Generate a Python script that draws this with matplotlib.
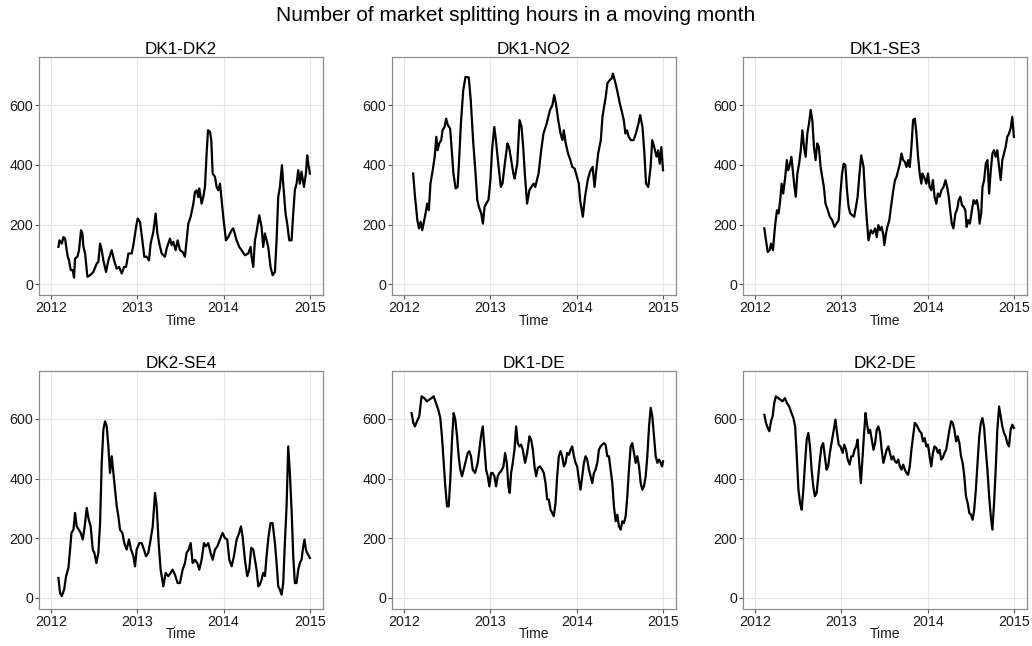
import numpy as np
import matplotlib
matplotlib.use("Agg")
import matplotlib.pyplot as plt

plt.rcParams['font.family'] = ['Liberation Sans', 'DejaVu Sans']

# Moving-month market splitting hours (decimal year, hours)
dk1_dk2 = [
    (2012.085, 125), (2012.097, 147), (2012.124, 136), (2012.143, 158), (2012.162, 153),
    (2012.181, 114), (2012.193, 92), (2012.208, 80), (2012.228, 47), (2012.251, 47),
    (2012.266, 22), (2012.278, 86), (2012.305, 92), (2012.324, 114), (2012.347, 181),
    (2012.363, 170), (2012.375, 125), (2012.394, 103), (2012.421, 25), (2012.452, 30),
    (2012.490, 41), (2012.529, 69), (2012.548, 75), (2012.568, 136), (2012.587, 114),
    (2012.606, 80), (2012.637, 41), (2012.664, 80), (2012.703, 114), (2012.730, 80),
    (2012.761, 52), (2012.788, 58), (2012.819, 36), (2012.846, 58), (2012.869, 58),
    (2012.896, 103), (2012.934, 103), (2012.954, 131), (2012.985, 192), (2013.004, 220),
    (2013.031, 209), (2013.058, 147), (2013.081, 92), (2013.108, 92), (2013.135, 80),
    (2013.154, 136), (2013.185, 175), (2013.212, 237), (2013.232, 170), (2013.255, 136),
    (2013.282, 103), (2013.320, 92), (2013.340, 120), (2013.378, 153), (2013.398, 131),
    (2013.417, 142), (2013.444, 114), (2013.467, 147), (2013.494, 114), (2013.525, 108),
    (2013.552, 92), (2013.571, 147), (2013.591, 203), (2013.618, 226), (2013.649, 270),
    (2013.668, 309), (2013.687, 315), (2013.707, 292), (2013.718, 321), (2013.745, 270),
    (2013.764, 292), (2013.784, 326), (2013.803, 438), (2013.819, 516), (2013.842, 511),
    (2013.857, 483), (2013.873, 371), (2013.900, 360), (2013.919, 326), (2013.938, 315),
    (2013.958, 337), (2013.977, 282), (2013.996, 226), (2014.027, 147), (2014.054, 158),
    (2014.093, 181), (2014.112, 187), (2014.151, 147), (2014.181, 125), (2014.208, 114),
    (2014.247, 97), (2014.286, 103), (2014.313, 125), (2014.324, 92), (2014.344, 58),
    (2014.363, 147), (2014.382, 175), (2014.413, 231), (2014.440, 192), (2014.459, 125),
    (2014.479, 170), (2014.517, 125), (2014.544, 58), (2014.568, 30), (2014.595, 41),
    (2014.614, 147), (2014.633, 292), (2014.653, 326), (2014.676, 399), (2014.691, 337),
    (2014.718, 237), (2014.737, 203), (2014.761, 147), (2014.788, 147), (2014.807, 237),
    (2014.826, 315), (2014.846, 337), (2014.865, 382), (2014.884, 337), (2014.903, 377),
    (2014.931, 326), (2014.954, 371), (2014.969, 432), (2014.981, 405), (2015.000, 371),
]

dk1_no2 = [
    (2012.103, 371), (2012.125, 293), (2012.152, 215), (2012.171, 187), (2012.190, 209),
    (2012.209, 181), (2012.228, 209), (2012.247, 237), (2012.266, 270), (2012.285, 248),
    (2012.304, 337), (2012.330, 382), (2012.353, 427), (2012.372, 494), (2012.387, 449),
    (2012.406, 472), (2012.429, 483), (2012.444, 516), (2012.467, 527), (2012.486, 555),
    (2012.505, 533), (2012.532, 522), (2012.551, 449), (2012.570, 371), (2012.596, 321),
    (2012.619, 326), (2012.634, 404), (2012.657, 539), (2012.684, 650), (2012.710, 695),
    (2012.748, 693), (2012.771, 617), (2012.798, 483), (2012.824, 382), (2012.847, 282),
    (2012.866, 259), (2012.893, 237), (2012.912, 203), (2012.931, 259), (2012.950, 270),
    (2012.976, 282), (2012.999, 349), (2013.018, 449), (2013.044, 527), (2013.063, 483),
    (2013.090, 404), (2013.120, 326), (2013.139, 337), (2013.166, 404), (2013.196, 472),
    (2013.215, 460), (2013.234, 427), (2013.265, 371), (2013.280, 354), (2013.310, 404),
    (2013.337, 550), (2013.360, 527), (2013.379, 460), (2013.398, 371), (2013.424, 270),
    (2013.451, 315), (2013.474, 326), (2013.500, 337), (2013.519, 326), (2013.538, 349),
    (2013.557, 371), (2013.588, 449), (2013.614, 505), (2013.652, 539), (2013.690, 584),
    (2013.717, 600), (2013.739, 634), (2013.758, 606), (2013.785, 550), (2013.812, 505),
    (2013.834, 483), (2013.850, 516), (2013.872, 472), (2013.899, 438), (2013.926, 416),
    (2013.948, 393), (2013.975, 388), (2014.002, 360), (2014.024, 337), (2014.039, 282),
    (2014.070, 226), (2014.096, 293), (2014.127, 349), (2014.153, 377), (2014.184, 393),
    (2014.206, 326), (2014.222, 371), (2014.248, 438), (2014.279, 483), (2014.298, 561),
    (2014.317, 595), (2014.336, 628), (2014.355, 673), (2014.381, 684), (2014.404, 689),
    (2014.419, 706), (2014.450, 673), (2014.476, 639), (2014.499, 606), (2014.518, 584),
    (2014.545, 550), (2014.564, 505), (2014.583, 516), (2014.602, 494), (2014.628, 483),
    (2014.659, 483), (2014.685, 505), (2014.716, 539), (2014.735, 567), (2014.762, 527),
    (2014.784, 438), (2014.803, 337), (2014.829, 326), (2014.856, 393), (2014.875, 483),
    (2014.898, 460), (2014.925, 427), (2014.944, 449), (2014.962, 404), (2014.981, 460),
    (2015.000, 382),
]

dk1_se3 = [
    (2012.107, 187), (2012.126, 147), (2012.146, 108), (2012.169, 114), (2012.184, 136),
    (2012.207, 114), (2012.230, 192), (2012.253, 248), (2012.272, 237), (2012.291, 282),
    (2012.307, 337), (2012.326, 304), (2012.349, 360), (2012.368, 416), (2012.383, 382),
    (2012.402, 399), (2012.421, 427), (2012.437, 382), (2012.452, 337), (2012.471, 293),
    (2012.490, 371), (2012.510, 404), (2012.529, 449), (2012.548, 516), (2012.567, 460),
    (2012.586, 427), (2012.605, 505), (2012.625, 539), (2012.644, 584), (2012.663, 550),
    (2012.682, 460), (2012.701, 416), (2012.720, 472), (2012.739, 460), (2012.759, 393),
    (2012.778, 360), (2012.797, 326), (2012.816, 270), (2012.843, 248), (2012.866, 226),
    (2012.893, 215), (2012.920, 192), (2012.943, 203), (2012.969, 215), (2012.989, 304),
    (2013.008, 371), (2013.027, 404), (2013.046, 399), (2013.065, 315), (2013.084, 259),
    (2013.103, 237), (2013.126, 231), (2013.149, 226), (2013.169, 259), (2013.188, 293),
    (2013.207, 360), (2013.230, 432), (2013.257, 393), (2013.276, 293), (2013.295, 215),
    (2013.314, 147), (2013.341, 181), (2013.364, 170), (2013.391, 187), (2013.410, 158),
    (2013.429, 198), (2013.448, 181), (2013.467, 192), (2013.487, 164), (2013.498, 131),
    (2013.517, 170), (2013.533, 192), (2013.556, 215), (2013.575, 259), (2013.602, 315),
    (2013.621, 349), (2013.640, 360), (2013.659, 382), (2013.678, 404), (2013.697, 438),
    (2013.716, 416), (2013.736, 410), (2013.755, 393), (2013.774, 416), (2013.793, 393),
    (2013.812, 460), (2013.831, 550), (2013.851, 555), (2013.870, 505), (2013.889, 427),
    (2013.908, 371), (2013.927, 337), (2013.939, 371), (2013.958, 360), (2013.985, 337),
    (2014.004, 371), (2014.023, 326), (2014.042, 315), (2014.061, 349), (2014.080, 293),
    (2014.100, 270), (2014.119, 304), (2014.138, 293), (2014.161, 315), (2014.184, 326),
    (2014.207, 349), (2014.226, 326), (2014.245, 293), (2014.261, 248), (2014.280, 203),
    (2014.299, 187), (2014.322, 237), (2014.345, 254), (2014.360, 282), (2014.379, 293),
    (2014.398, 265), (2014.418, 259), (2014.437, 248), (2014.452, 192), (2014.471, 215),
    (2014.490, 203), (2014.513, 248), (2014.533, 282), (2014.552, 270), (2014.571, 282),
    (2014.590, 248), (2014.602, 203), (2014.621, 237), (2014.636, 326), (2014.655, 349),
    (2014.674, 404), (2014.693, 416), (2014.713, 304), (2014.732, 382), (2014.751, 438),
    (2014.770, 449), (2014.789, 427), (2014.808, 449), (2014.828, 393), (2014.847, 349),
    (2014.866, 416), (2014.885, 438), (2014.904, 460), (2014.923, 494), (2014.943, 505),
    (2014.962, 522), (2014.981, 561), (2015.000, 494),
]

dk2_se4 = [
    (2012.085, 67), (2012.104, 17), (2012.124, 6), (2012.151, 28), (2012.174, 73),
    (2012.201, 101), (2012.220, 162), (2012.236, 218), (2012.259, 229), (2012.278, 285),
    (2012.297, 240), (2012.320, 229), (2012.344, 218), (2012.367, 196), (2012.390, 240),
    (2012.413, 302), (2012.436, 263), (2012.459, 240), (2012.483, 162), (2012.502, 151),
    (2012.525, 117), (2012.548, 151), (2012.568, 251), (2012.587, 453), (2012.606, 564),
    (2012.625, 592), (2012.645, 575), (2012.664, 508), (2012.683, 419), (2012.703, 475),
    (2012.722, 419), (2012.741, 363), (2012.761, 307), (2012.780, 274), (2012.799, 229),
    (2012.826, 218), (2012.849, 184), (2012.876, 162), (2012.903, 196), (2012.927, 162),
    (2012.954, 140), (2012.973, 106), (2012.992, 162), (2013.023, 184), (2013.050, 184),
    (2013.077, 162), (2013.100, 140), (2013.127, 151), (2013.154, 196), (2013.178, 240),
    (2013.205, 352), (2013.224, 307), (2013.247, 184), (2013.270, 95), (2013.301, 39),
    (2013.328, 84), (2013.359, 73), (2013.386, 84), (2013.409, 95), (2013.436, 78),
    (2013.467, 50), (2013.494, 50), (2013.525, 95), (2013.552, 117), (2013.571, 151),
    (2013.595, 162), (2013.618, 184), (2013.641, 117), (2013.668, 128), (2013.695, 117),
    (2013.718, 95), (2013.745, 128), (2013.772, 184), (2013.795, 173), (2013.822, 184),
    (2013.849, 151), (2013.873, 128), (2013.900, 162), (2013.927, 173), (2013.958, 196),
    (2013.988, 218), (2014.015, 201), (2014.042, 196), (2014.066, 128), (2014.093, 106),
    (2014.120, 140), (2014.151, 196), (2014.181, 218), (2014.201, 240), (2014.220, 207),
    (2014.247, 128), (2014.274, 73), (2014.297, 95), (2014.320, 168), (2014.344, 162),
    (2014.363, 128), (2014.382, 95), (2014.402, 39), (2014.421, 45), (2014.440, 61),
    (2014.459, 84), (2014.479, 73), (2014.498, 140), (2014.521, 207), (2014.544, 251),
    (2014.568, 251), (2014.595, 184), (2014.614, 117), (2014.633, 39), (2014.652, 28),
    (2014.672, 11), (2014.691, 50), (2014.710, 184), (2014.730, 307), (2014.749, 508),
    (2014.768, 419), (2014.788, 296), (2014.807, 140), (2014.826, 50), (2014.846, 50),
    (2014.865, 95), (2014.884, 117), (2014.903, 128), (2014.923, 173), (2014.938, 196),
    (2014.954, 162), (2014.969, 151), (2015.000, 134),
]

dk1_de = [
    (2012.085, 620), (2012.105, 587), (2012.124, 575), (2012.147, 592), (2012.174, 609),
    (2012.201, 676), (2012.232, 670), (2012.263, 659), (2012.290, 665), (2012.317, 670),
    (2012.341, 676), (2012.368, 654), (2012.395, 631), (2012.418, 603), (2012.437, 542),
    (2012.457, 453), (2012.476, 374), (2012.496, 307), (2012.515, 307), (2012.534, 397),
    (2012.554, 531), (2012.573, 620), (2012.592, 598), (2012.612, 542), (2012.631, 475),
    (2012.650, 430), (2012.670, 408), (2012.689, 430), (2012.708, 453), (2012.736, 486),
    (2012.755, 492), (2012.774, 475), (2012.794, 430), (2012.821, 419), (2012.852, 453),
    (2012.871, 497), (2012.890, 542), (2012.910, 575), (2012.929, 508), (2012.949, 430),
    (2012.968, 408), (2012.987, 374), (2013.007, 419), (2013.026, 419), (2013.045, 408),
    (2013.065, 374), (2013.084, 408), (2013.103, 419), (2013.123, 425), (2013.150, 441),
    (2013.169, 486), (2013.189, 453), (2013.208, 374), (2013.223, 352), (2013.239, 419),
    (2013.258, 453), (2013.278, 497), (2013.297, 575), (2013.316, 519), (2013.336, 508),
    (2013.355, 514), (2013.374, 497), (2013.401, 453), (2013.425, 486), (2013.452, 542),
    (2013.471, 531), (2013.491, 497), (2013.510, 441), (2013.529, 408), (2013.549, 436),
    (2013.576, 441), (2013.599, 430), (2013.618, 419), (2013.638, 385), (2013.657, 330),
    (2013.676, 330), (2013.696, 296), (2013.715, 285), (2013.734, 274), (2013.754, 319),
    (2013.773, 408), (2013.792, 475), (2013.812, 492), (2013.831, 475), (2013.851, 441),
    (2013.870, 453), (2013.889, 486), (2013.909, 480), (2013.928, 497), (2013.947, 508),
    (2013.967, 475), (2013.986, 453), (2014.005, 441), (2014.025, 397), (2014.044, 363),
    (2014.063, 408), (2014.083, 453), (2014.102, 475), (2014.121, 464), (2014.141, 430),
    (2014.160, 408), (2014.180, 385), (2014.199, 419), (2014.218, 430), (2014.238, 453),
    (2014.257, 497), (2014.276, 508), (2014.296, 514), (2014.315, 519), (2014.334, 514),
    (2014.354, 475), (2014.373, 475), (2014.393, 430), (2014.412, 385), (2014.431, 307),
    (2014.451, 257), (2014.470, 279), (2014.489, 240), (2014.509, 229), (2014.528, 257),
    (2014.547, 251), (2014.567, 274), (2014.586, 341), (2014.605, 430), (2014.625, 508),
    (2014.644, 519), (2014.664, 486), (2014.683, 453), (2014.702, 475), (2014.722, 441),
    (2014.741, 385), (2014.760, 363), (2014.779, 374), (2014.799, 408), (2014.818, 475),
    (2014.838, 575), (2014.857, 637), (2014.876, 609), (2014.896, 542), (2014.915, 475),
    (2014.934, 453), (2014.954, 464), (2014.973, 453), (2014.989, 441), (2015.000, 458),
]

dk2_de = [
    (2012.107, 614), (2012.126, 587), (2012.146, 570), (2012.165, 559), (2012.184, 592),
    (2012.203, 609), (2012.222, 654), (2012.241, 676), (2012.268, 670), (2012.291, 665),
    (2012.318, 659), (2012.345, 670), (2012.368, 654), (2012.395, 642), (2012.421, 620),
    (2012.444, 603), (2012.464, 575), (2012.483, 475), (2012.502, 363), (2012.521, 318),
    (2012.540, 296), (2012.559, 363), (2012.579, 453), (2012.598, 531), (2012.617, 553),
    (2012.636, 508), (2012.655, 430), (2012.674, 374), (2012.693, 341), (2012.713, 352),
    (2012.732, 408), (2012.751, 464), (2012.770, 508), (2012.789, 519), (2012.808, 475),
    (2012.828, 430), (2012.847, 441), (2012.866, 486), (2012.893, 531), (2012.912, 564),
    (2012.931, 598), (2012.950, 553), (2012.969, 514), (2012.989, 508), (2013.015, 486),
    (2013.034, 514), (2013.054, 497), (2013.073, 464), (2013.096, 447), (2013.115, 475),
    (2013.134, 475), (2013.153, 497), (2013.172, 508), (2013.188, 531), (2013.207, 453),
    (2013.226, 385), (2013.241, 453), (2013.261, 542), (2013.280, 620), (2013.295, 587),
    (2013.314, 553), (2013.333, 564), (2013.352, 531), (2013.372, 497), (2013.391, 519),
    (2013.410, 564), (2013.429, 575), (2013.448, 553), (2013.467, 497), (2013.487, 453),
    (2013.506, 475), (2013.525, 497), (2013.544, 508), (2013.563, 486), (2013.582, 464),
    (2013.602, 475), (2013.621, 458), (2013.640, 453), (2013.659, 464), (2013.678, 441),
    (2013.697, 430), (2013.716, 447), (2013.736, 430), (2013.755, 419), (2013.774, 413),
    (2013.793, 441), (2013.812, 497), (2013.831, 542), (2013.851, 587), (2013.870, 581),
    (2013.889, 570), (2013.908, 559), (2013.927, 553), (2013.946, 525), (2013.966, 536),
    (2013.985, 508), (2014.004, 514), (2014.023, 475), (2014.042, 441), (2014.061, 486),
    (2014.080, 508), (2014.100, 503), (2014.119, 486), (2014.138, 497), (2014.157, 464),
    (2014.176, 470), (2014.195, 486), (2014.215, 497), (2014.234, 531), (2014.253, 564),
    (2014.272, 592), (2014.291, 587), (2014.310, 564), (2014.330, 525), (2014.349, 542),
    (2014.368, 519), (2014.387, 475), (2014.406, 453), (2014.425, 408), (2014.444, 341),
    (2014.464, 318), (2014.483, 285), (2014.502, 279), (2014.521, 262), (2014.540, 296),
    (2014.559, 363), (2014.579, 453), (2014.598, 542), (2014.617, 587), (2014.636, 603),
    (2014.655, 570), (2014.674, 497), (2014.693, 430), (2014.713, 341), (2014.732, 274),
    (2014.751, 229), (2014.770, 319), (2014.789, 430), (2014.808, 564), (2014.828, 642),
    (2014.847, 609), (2014.866, 575), (2014.885, 553), (2014.904, 542), (2014.923, 519),
    (2014.943, 508), (2014.962, 564), (2014.981, 581), (2015.000, 570),
]

titles = ["DK1-DK2", "DK1-NO2", "DK1-SE3", "DK2-SE4", "DK1-DE", "DK2-DE"]
series = [dk1_dk2, dk1_no2, dk1_se3, dk2_se4, dk1_de, dk2_de]
year_ticks = [2012, 2013, 2014, 2015]
year_labels = ["2012", "2013", "2014", "2015"]
hour_ticks = [0, 200, 400, 600]

fig = plt.figure(figsize=(10.32, 6.46), dpi=100)

# panel rectangles in figure fractions (left, bottom, width, height)
lefts = [0.0378, 0.380, 0.720]
bottoms = [0.543, 0.0573]
w, h = 0.275, 0.368

for i, (name, data) in enumerate(zip(titles, series)):
    ax = fig.add_axes([lefts[i % 3], bottoms[i // 3], w, h])
    t, v = np.array(data).T
    ax.plot(t, v, color="black", lw=1.6, solid_joinstyle="round")
    ax.set_xlim(2011.86, 2015.15)
    ax.set_ylim(-37, 760)
    ax.set_xticks(year_ticks)
    ax.set_xticklabels(year_labels)
    ax.set_yticks(hour_ticks)
    ax.grid(True, color="#e6e6e6", lw=0.8)
    ax.set_axisbelow(True)
    for s in ax.spines.values():
        s.set_color("#8c8c8c")
        s.set_linewidth(0.9)
    ax.tick_params(length=3, width=0.8, color="#555555", labelsize=10.3,
                   labelcolor="#1a1a1a", pad=1.2)
    ax.set_title(name, fontsize=12.3, pad=2)
    ax.set_xlabel("Time", fontsize=10, labelpad=-1, color="#1a1a1a")

fig.suptitle("Number of market splitting hours in a moving month", fontsize=15, y=0.99)

fig.savefig("out.png", dpi=100)
